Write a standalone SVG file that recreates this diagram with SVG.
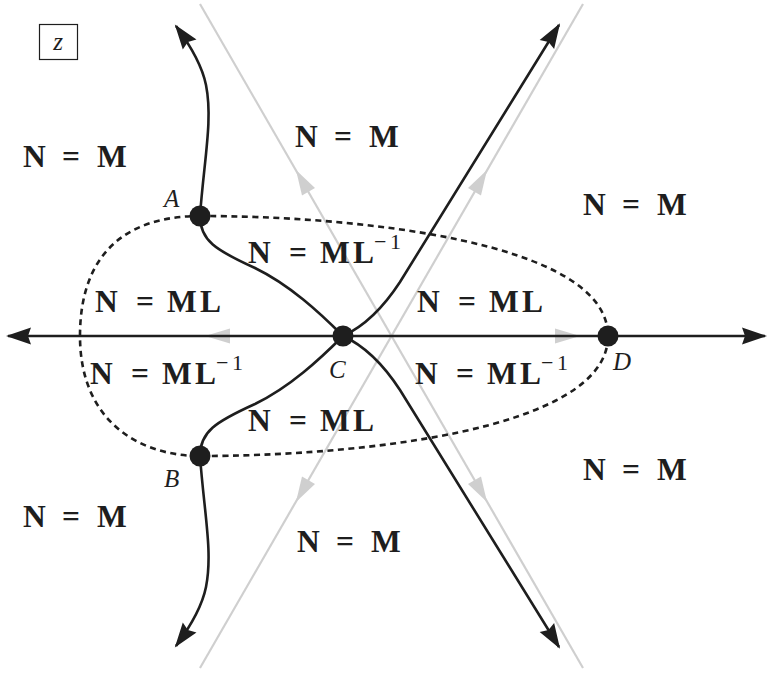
<svg xmlns="http://www.w3.org/2000/svg" xmlns:xlink="http://www.w3.org/1999/xlink" width="767" height="673" viewBox="0 0 767 673">
<style>
.gray{fill:none;stroke:#cfcfcf;stroke-width:2.2}
.garrow{fill:#cfcfcf;stroke:none}
.curve{fill:none;stroke:#1e1e1e;stroke-width:2.6}
.dash{fill:none;stroke:#1e1e1e;stroke-width:2.6;stroke-dasharray:6 4.5}
.dot{fill:#1e1e1e}
.lab{font-family:"Liberation Serif","Times New Roman",serif;font-weight:bold;font-size:31.5px;fill:#1e1e1e}
.sup{font-family:"Liberation Serif","Times New Roman",serif;font-weight:normal;font-size:22px}
.pt{font-family:"Liberation Serif","Times New Roman",serif;font-style:italic;font-size:25px;fill:#1e1e1e}
</style>
<defs>
<marker id="ah" viewBox="-24 -9 27 18" refX="0" refY="0" markerWidth="27" markerHeight="18" markerUnits="userSpaceOnUse" orient="auto-start-reverse">
<path d="M2 0 L-23 -8.5 L-20 0 L-23 8.5 Z" fill="#1e1e1e"/>
</marker>
<path id="ga" d="M0 0 L-25 -7.5 L-25 7.5 Z"/>
</defs>
<rect width="767" height="673" fill="#ffffff"/>
<g id="box-z">
<rect x="39.5" y="24.5" width="38" height="35" fill="none" stroke="#1e1e1e" stroke-width="1.2"/>
<text class="pt" x="58" y="50" text-anchor="middle" font-size="23">z</text>
</g>
<g id="gray-lines">
<path class="gray" d="M200 4 L583 668"/>
<path class="gray" d="M583 4 L200 668"/>
<use xlink:href="#ga" href="#ga" class="garrow" transform="translate(296 170) rotate(-120)"/>
<use xlink:href="#ga" href="#ga" class="garrow" transform="translate(487 502) rotate(60)"/>
<use xlink:href="#ga" href="#ga" class="garrow" transform="translate(487 170) rotate(-60)"/>
<use xlink:href="#ga" href="#ga" class="garrow" transform="translate(296 502) rotate(120)"/>
<use xlink:href="#ga" href="#ga" class="garrow" transform="translate(205 336) rotate(180)"/>
<use xlink:href="#ga" href="#ga" class="garrow" transform="translate(580 336) rotate(0)"/>
</g>
<g id="connectors">
<path class="dash" d="M200 216 C350 216 608 240 608 336 C608 432 350 456 200 456 C140 456 80 422 80 336 C80 250 130 216 200 216 Z"/>
<path class="curve" d="M8 336 L765 336" marker-start="url(#ah)" marker-end="url(#ah)"/>
<path class="curve" d="M200 216 C204 160 213 120 206 85 C202 65 190 45 176 26" marker-end="url(#ah)"/>
<path class="curve" d="M200 456 C204 512 213 552 206 587 C202 607 190 627 176 646" marker-end="url(#ah)"/>
<path class="curve" d="M200 216 C200 240 215 250 255 268 C290 285 320 313 343 336"/>
<path class="curve" d="M200 456 C200 432 215 422 255 404 C290 387 320 359 343 336"/>
<path class="curve" d="M343 336 C365 326 385 305 400 282 L559 25" marker-end="url(#ah)"/>
<path class="curve" d="M343 336 C365 346 385 367 400 390 L559 647" marker-end="url(#ah)"/>
</g>
<g id="node-A"><circle class="dot" cx="200" cy="216" r="10.5"/><text class="pt" x="164" y="207">A</text></g>
<g id="node-B"><circle class="dot" cx="200" cy="456" r="10.5"/><text class="pt" x="164" y="487">B</text></g>
<g id="node-C"><circle class="dot" cx="343" cy="336" r="10.5"/><text class="pt" x="329" y="378">C</text></g>
<g id="node-D"><circle class="dot" cx="608" cy="336" r="10.5"/><text class="pt" x="613" y="370">D</text></g>
<g id="region-labels">
<text class="lab" x="23 47 62 84 97" y="167">N = M</text>
<text class="lab" x="295 319 334 356 369" y="147">N = M</text>
<text class="lab" x="583 607 622 644 657" y="215">N = M</text>
<text class="lab" x="583 607 622 644 657" y="480">N = M</text>
<text class="lab" x="23 47 62 84 97" y="527">N = M</text>
<text class="lab" x="297 321 336 358 371" y="552">N = M</text>
<text class="lab" x="95 119 136 157 167 200" y="312">N = ML</text>
<text class="lab" x="417 441 458 479 489 522" y="312">N = ML</text>
<text class="lab" x="248 272 289 310 320 353" y="431">N = ML</text>
<text class="lab" x="248 272 289 310 320 353" y="263">N = ML<tspan class="sup" x="374 390" y="249">−1</tspan></text>
<text class="lab" x="90 114 131 152 162 195" y="384">N = ML<tspan class="sup" x="216 232" y="370">−1</tspan></text>
<text class="lab" x="415 439 456 477 487 520" y="384">N = ML<tspan class="sup" x="541 557" y="370">−1</tspan></text>
</g>
</svg>
